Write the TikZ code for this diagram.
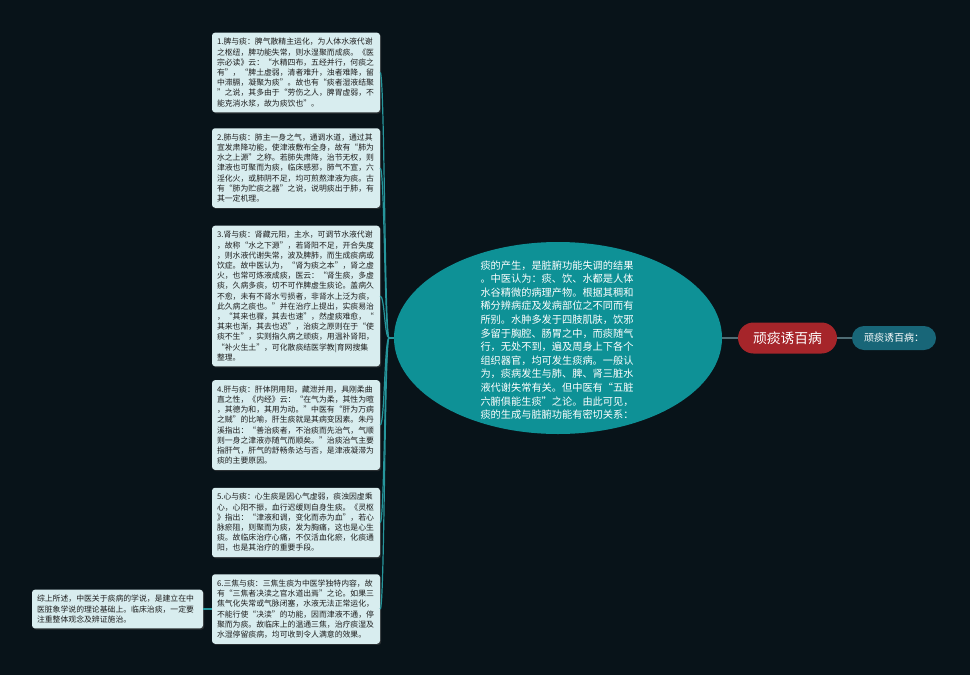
\documentclass[tikz,border=0pt]{standalone}
\usepackage{fontspec}
\setmainfont{Noto Sans CJK SC}
\usetikzlibrary{shapes.geometric,shadows}
\definecolor{bg}{RGB}{8,19,25}
\definecolor{boxfill}{RGB}{216,237,239}
\definecolor{coreteal}{RGB}{14,145,150}
\definecolor{rootred}{RGB}{166,37,42}
\definecolor{leafteal}{RGB}{24,102,120}
\definecolor{linkteal}{RGB}{38,150,156}
\definecolor{linkgray}{RGB}{78,108,116}
\definecolor{boxtext}{RGB}{30,30,30}
\begin{document}
\begin{tikzpicture}[x=1pt,y=-1pt,
  textbox/.style={fill=boxfill, rounded corners=3pt, text=boxtext, align=left,
    text width=158pt, inner xsep=5pt, inner ysep=5.5pt,
    font=\fontsize{7.85}{10.2}\selectfont,
    drop shadow={shadow xshift=1.2pt, shadow yshift=-1.2pt, fill=black!70, opacity=0.5}},
  coreshape/.style={ellipse, fill=coreteal, minimum width=328pt, minimum height=192pt, inner sep=0pt},
  corebodytext/.style={text=white, align=left, inner sep=0pt, font=\fontsize{10.2}{13.6}\selectfont},
  rootbox/.style={fill=rootred, text=white, rounded corners=15.5pt, minimum width=99pt,
    minimum height=31pt, inner sep=0pt, font=\fontsize{13.8}{16}\selectfont},
  leafbox/.style={fill=leafteal, text=white, rounded corners=12pt, minimum width=84pt,
    minimum height=24pt, inner sep=0pt, font=\fontsize{10}{12}\selectfont},
  spine/.style={draw=linkteal, line width=1.2pt},
  mainlink/.style={draw=linkgray, line width=2pt}
]
\useasboundingbox (0,0) rectangle (970,675);
\fill[bg] (0,0) rectangle (970,675);

% central ellipse
\node[coreshape] (core) at (558,338) {};
\node[corebodytext] (corebody) at (557,340) {痰的产生，是脏腑功能失调的结果\\
。中医认为：痰、饮、水都是人体\\
水谷精微的病理产物。根据其稠和\\
稀分辨病症及发病部位之不同而有\\
所别。水肿多发于四肢肌肤，饮邪\\
多留于胸腔、肠胃之中，而痰随气\\
行，无处不到，遍及周身上下各个\\
组织器官，均可发生痰病。一般认\\
为，痰病发生与肺、脾、肾三脏水\\
液代谢失常有关。但中医有“五脏\\
六腑俱能生痰”之论。由此可见，\\
痰的生成与脏腑功能有密切关系：};

% root and leaf
\node[rootbox] (root) at (787.5,338) {顽痰诱百病};
\node[leafbox] (leaf) at (894,338) {顽痰诱百病：};

% left boxes
\node[textbox] (b1) at (296,72.5) {1.脾与痰：脾气散精主运化，为人体水液代谢\\
之枢纽，脾功能失常，则水湿聚而成痰。《医\\
宗必读》云：“水精四布，五经并行，何痰之\\
有”，“脾土虚弱，清者难升，浊者难降，留\\
中滞膈，凝聚为痰”。故也有“痰者湿液结聚\\
”之说，其多由于“劳伤之人，脾胃虚弱，不\\
能克消水浆，故为痰饮也”。};

\node[textbox] (b2) at (296,168) {2.肺与痰：肺主一身之气，通调水道，通过其\\
宣发肃降功能，使津液敷布全身，故有“肺为\\
水之上源”之称。若肺失肃降，治节无权，则\\
津液也可聚而为痰，临床感邪，肺气不宣，六\\
淫化火，或肺阴不足，均可煎熬津液为痰。古\\
有“肺为贮痰之器”之说，说明痰出于肺，有\\
其一定机理。};

\node[textbox] (b3) at (296,296) {3.肾与痰：肾藏元阳，主水，可调节水液代谢\\
，故称“水之下源”，若肾阳不足，开合失度\\
，则水液代谢失常，波及脾肺，而生成痰病或\\
饮症。故中医认为，“肾为痰之本”，肾之虚\\
火，也常可炼液成痰，医云：“肾生痰，多虚\\
痰，久病多痰，切不可作脾虚生痰论。盖病久\\
不愈，未有不肾水亏损者，非肾水上泛为痰，\\
此久病之痰也。”并在治疗上提出，实痰易治\\
，“其来也骤，其去也速”，然虚痰难愈，“\\
其来也渐，其去也迟”，治痰之原则在于“使\\
痰不生”，实则指久病之顽痰，用温补肾阳，\\
“补火生土”，可化散痰结医学教|育网搜集\\
整理。};

\node[textbox] (b4) at (296,425) {4.肝与痰：肝体阴用阳，藏泄并用，具刚柔曲\\
直之性，《内经》云：“在气为柔，其性为暄\\
，其德为和，其用为动。”中医有“肝为万病\\
之贼”的比喻，肝生痰就是其病变因素。朱丹\\
溪指出：“善治痰者，不治痰而先治气，气顺\\
则一身之津液亦随气而顺矣。”治痰治气主要\\
指肝气，肝气的舒畅条达与否，是津液凝滞为\\
痰的主要原因。};

\node[textbox] (b5) at (296,522.5) {5.心与痰：心生痰是因心气虚弱，痰浊因虚乘\\
心，心阳不振，血行迟缓则自身生痰。《灵枢\\
》指出：“津液和调，变化而赤为血”，若心\\
脉瘀阻，则聚而为痰，发为胸痛，这也是心生\\
痰。故临床治疗心痛，不仅活血化瘀，化痰通\\
阳，也是其治疗的重要手段。};

\node[textbox] (b6) at (296,609) {6.三焦与痰：三焦生痰为中医学独特内容，故\\
有“三焦者决渎之官水道出焉”之论。如果三\\
焦气化失常或气脉闭塞，水液无法正常运化，\\
不能行使“决渎”的功能，因而津液不通，停\\
聚而为痰。故临床上的温通三焦，治疗痰湿及\\
水湿停留痰病，均可收到令人满意的效果。};

\node[textbox, text width=161pt] (fin) at (117.5,609) {综上所述，中医关于痰病的学说，是建立在中\\
医脏象学说的理论基础上。临床治痰，一定要\\
注重整体观念及辨证施治。};

% connectors
\coordinate (hub) at (389,338);
\draw[spine] (core.west) -- (hub);
\foreach \b in {b1,b2,b3,b4,b5,b6}{
  \draw[spine] (hub) .. controls ([xshift=-4.5pt]hub) and ([xshift=4.5pt]\b.east) .. (\b.east);
}
\draw[spine] (b6.west) -- (fin.east);
\draw[mainlink] (core.east) -- (root.west);
\draw[mainlink] (root.east) -- (leaf.west);
\end{tikzpicture}
\end{document}
